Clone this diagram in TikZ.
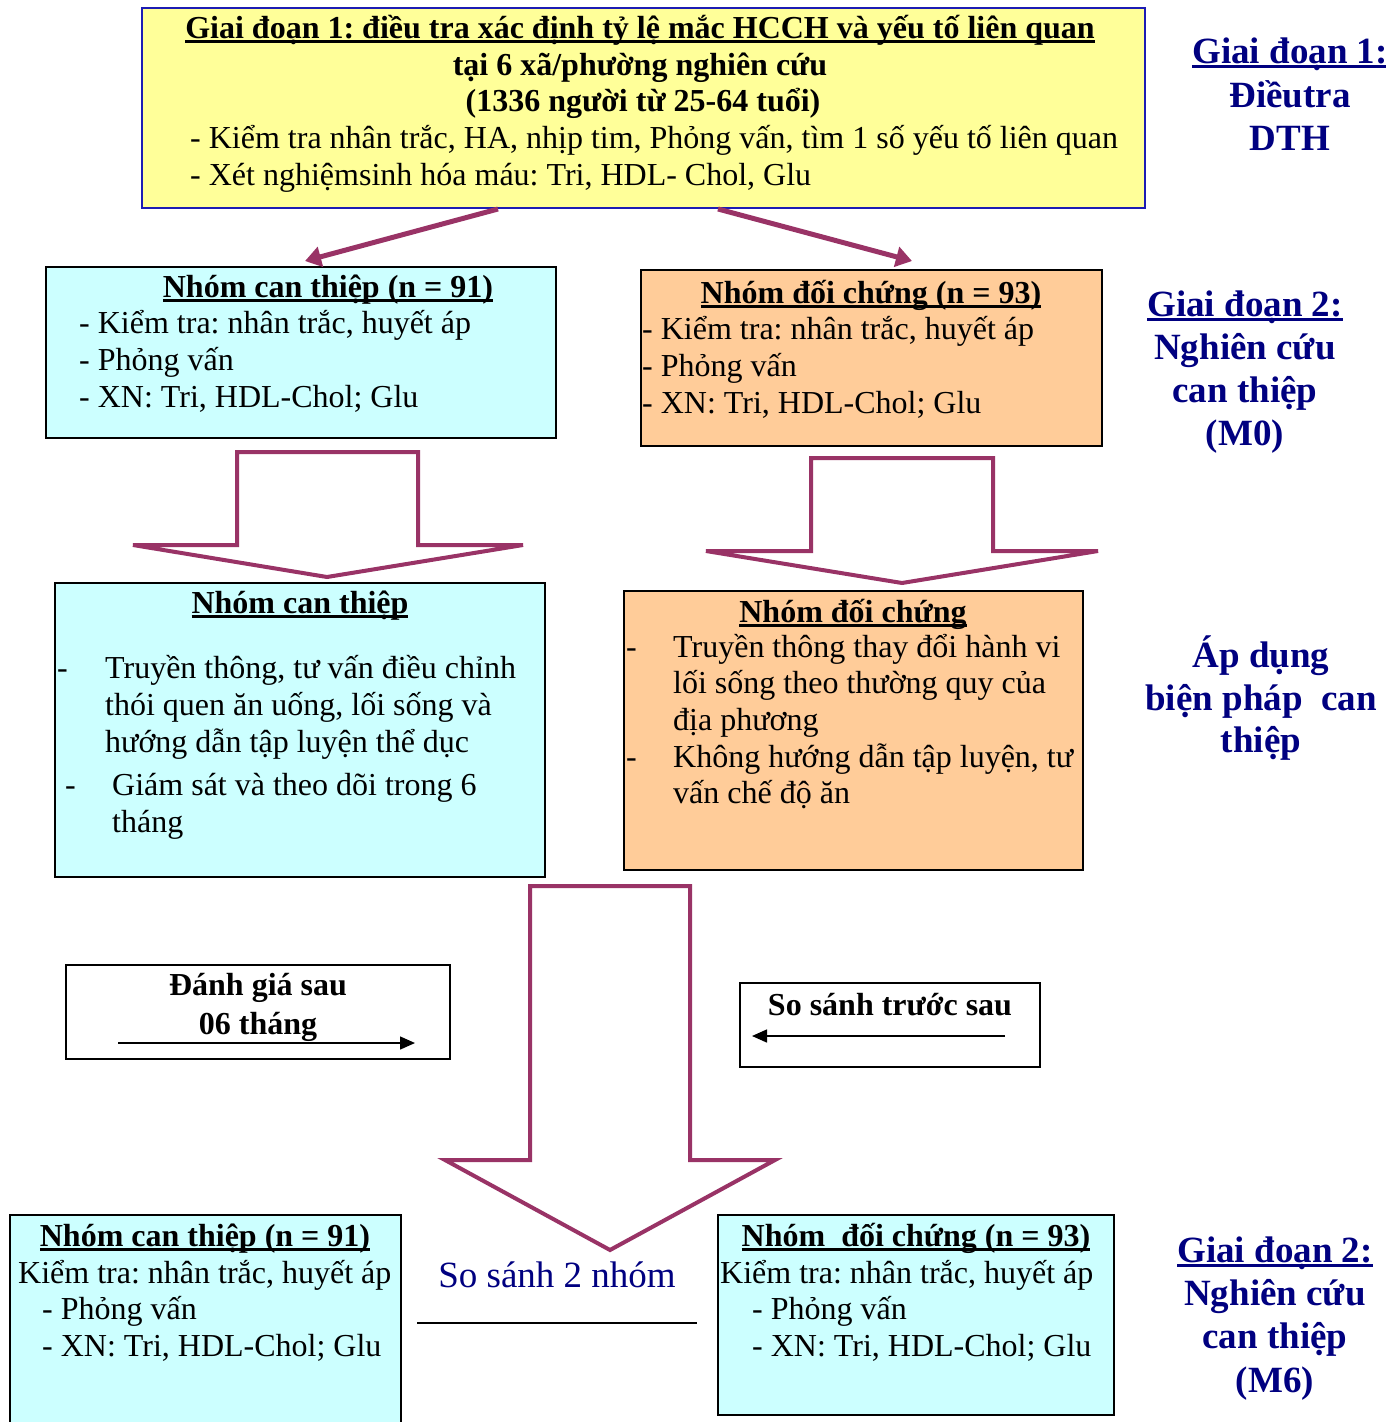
\documentclass[tikz,border=0pt]{standalone}
\usepackage{fontspec}
\setmainfont{Liberation Serif}
\usetikzlibrary{arrows.meta,calc}
\frenchspacing

\definecolor{boxyellow}{HTML}{FFFF99}
\definecolor{boxcyan}{HTML}{CCFFFF}
\definecolor{boxorange}{HTML}{FFCC99}
\definecolor{arrowpurple}{HTML}{993366}
\definecolor{labelnavy}{HTML}{000080}
\definecolor{borderblue}{HTML}{1C1CB4}

\newcommand{\bodyfont}{\fontsize{32}{37}\selectfont}
\newcommand{\sidefont}{\fontsize{37}{43}\selectfont\bfseries}
\newsavebox{\ulinebox}
\newcommand{\thickul}[1]{\sbox{\ulinebox}{#1}\rlap{\rule[-5pt]{\wd\ulinebox}{2.6pt}}\usebox{\ulinebox}}

\tikzset{
  box/.style={draw, line width=2pt, inner sep=0pt},
  bodytext/.style={font=\bodyfont, inner sep=0pt, anchor=base west},
  titletext/.style={font=\bodyfont\bfseries, inner sep=0pt, anchor=base},
  sidetext/.style={font=\sidefont, text=labelnavy, inner sep=0pt, anchor=base},
  linkarrow/.style={draw=arrowpurple, line width=5pt, -{Triangle[length=16pt,width=20pt]}},
  blockarrow/.style={draw=arrowpurple, line width=4pt, fill=white, line join=miter},
  thinarrow/.style={line width=1.5pt, -{Triangle[length=15pt,width=13pt]}}
}

\begin{document}
\begin{tikzpicture}[x=1pt, y=-1pt]
    \useasboundingbox (0,0) rectangle (1386,1422);

    % giai doan 1
    \node[box, draw=borderblue, fill=boxyellow, minimum width=1003pt, minimum height=200pt] (giai1) at (643.5,108) {};
    \node[titletext] (g1a) at (640,38) {\thickul{Giai đoạn 1: điều tra xác định tỷ lệ mắc HCCH và yếu tố liên quan}};
    \node[titletext] (g1b) at (640,75) {tại 6 xã/phường nghiên cứu};
    \node[titletext] (g1c) at (643,111) {(1336 người từ 25-64 tuổi)};
    \node[bodytext] (g1d) at (190,148) {- Kiểm tra nhân trắc, HA, nhịp tim, Phỏng vấn, tìm 1 số yếu tố liên quan};
    \node[bodytext] (g1e) at (190,185) {- Xét nghiệmsinh hóa máu: Tri, HDL- Chol, Glu};

    % M0
    \node[box, fill=boxcyan, minimum width=510pt, minimum height=171pt] (ct0) at (301,352.5) {};
    \node[titletext] (ct0a) at (328,297) {\thickul{Nhóm can thiệp (n = 91)}};
    \node[bodytext] (ct0b) at (79,333) {- Kiểm tra: nhân trắc, huyết áp};
    \node[bodytext] (ct0c) at (79,370) {- Phỏng vấn};
    \node[bodytext] (ct0d) at (79,407) {- XN: Tri, HDL-Chol; Glu};

    \node[box, fill=boxorange, minimum width=461pt, minimum height=176pt] (dc0) at (871.5,358) {};
    \node[titletext] (dc0a) at (871,303) {\thickul{Nhóm đối chứng (n = 93)}};
    \node[bodytext] (dc0b) at (642,339) {- Kiểm tra: nhân trắc, huyết áp};
    \node[bodytext] (dc0c) at (642,376) {- Phỏng vấn};
    \node[bodytext] (dc0d) at (642,413) {- XN: Tri, HDL-Chol; Glu};

    \draw[linkarrow] ([xshift=-145.5pt]giai1.south) -- ([xshift=4pt,yshift=5pt]ct0.north);
    \draw[linkarrow] ([xshift=74.5pt]giai1.south) -- ([xshift=40.5pt,yshift=8pt]dc0.north);

    % block arrows
    \draw[blockarrow] (237,452) -- (418,452) -- (418,545) -- (523,545) -- (327,577)
        -- (133,545) -- (237,545) -- cycle;
    \draw[blockarrow] (811,458) -- (993,458) -- (993,551) -- (1098,551) -- (902,583)
        -- (706,551) -- (811,551) -- cycle;

    % can thiep
    \node[box, fill=boxcyan, minimum width=490pt, minimum height=294pt] (ct1) at (300,730) {};
    \node[titletext] (ct1a) at (300,613) {\thickul{Nhóm can thiệp}};
    \node[bodytext] (ct1b) at (57,678) {-};
    \node[bodytext] (ct1c) at (105,678) {Truyền thông, tư vấn điều chỉnh};
    \node[bodytext] (ct1d) at (105,715) {thói quen ăn uống, lối sống và};
    \node[bodytext] (ct1e) at (105,752) {hướng dẫn tập luyện thể dục};
    \node[bodytext] (ct1f) at (65,795) {-};
    \node[bodytext] (ct1g) at (112,795) {Giám sát và theo dõi trong 6};
    \node[bodytext] (ct1h) at (112,832) {tháng};

    \node[box, fill=boxorange, minimum width=459pt, minimum height=279pt] (dc1) at (853.5,730.5) {};
    \node[titletext] (dc1a) at (853,622) {\thickul{Nhóm đối chứng}};
    \node[bodytext] (dc1b) at (626,657) {-};
    \node[bodytext] (dc1c) at (673,657) {Truyền thông thay đổi hành vi};
    \node[bodytext] (dc1d) at (673,693) {lối sống theo thường quy của};
    \node[bodytext] (dc1e) at (673,730) {địa phương};
    \node[bodytext] (dc1f) at (626,767) {-};
    \node[bodytext] (dc1g) at (673,767) {Không hướng dẫn tập luyện, tư};
    \node[bodytext] (dc1h) at (673,803) {vấn chế độ ăn};

    % danh gia sau 6 thang
    \draw[blockarrow] (530,886) -- (690,886) -- (690,1160) -- (775,1160) -- (610,1250)
        -- (445,1160) -- (530,1160) -- cycle;

    \node[box, minimum width=384pt, minimum height=94pt] (danhgia) at (258,1012) {};
    \node[titletext] (dga) at (258,995) {Đánh giá sau};
    \node[titletext] (dgb) at (258,1034) {06 tháng};
    \draw[thinarrow] ($(danhgia.center)+(-140,31)$) -- ($(danhgia.center)+(157,31)$);

    \node[box, minimum width=300pt, minimum height=84pt] (sosanhtt) at (890,1025) {};
    \node[titletext] (ssa) at (890,1015) {So sánh trước sau};
    \draw[thinarrow] ($(sosanhtt.center)+(115,11)$) -- ($(sosanhtt.center)+(-138,11)$);

    % M6
    \node[box, fill=boxcyan, minimum width=391pt, minimum height=215pt] (ct6) at (205.5,1322.5) {};
    \node[titletext] (ct6a) at (205,1246) {\thickul{Nhóm can thiệp (n = 91)}};
    \node[bodytext] (ct6b) at (18,1283) {Kiểm tra: nhân trắc, huyết áp};
    \node[bodytext] (ct6c) at (42,1319) {- Phỏng vấn};
    \node[bodytext] (ct6d) at (42,1356) {- XN: Tri, HDL-Chol; Glu};

    \node[box, fill=boxcyan, minimum width=396pt, minimum height=200pt] (dc6) at (916,1315) {};
    \node[titletext] (dc6a) at (916,1246) {\thickul{Nhóm\ \ đối chứng (n = 93)}};
    \node[bodytext] (dc6b) at (720,1283) {Kiểm tra: nhân trắc, huyết áp};
    \node[bodytext] (dc6c) at (752,1319) {- Phỏng vấn};
    \node[bodytext] (dc6d) at (752,1356) {- XN: Tri, HDL-Chol; Glu};

    \node[font=\fontsize{37}{43}\selectfont, text=labelnavy, inner sep=0pt, anchor=base] (sosanh) at (557,1287) {So sánh 2 nhóm};
    \draw[line width=2pt] ($(sosanh.base)+(-140,36)$) -- ($(sosanh.base)+(140,36)$);

    % nhan ben phai
    \node[sidetext] (s1a) at (1290,63) {\thickul{Giai đoạn 1:}};
    \node[sidetext] (s1b) at (1290,107) {Điềutra};
    \node[sidetext] (s1c) at (1290,150) {DTH};

    \node[sidetext] (s2a) at (1245,316) {\thickul{Giai đoạn 2:}};
    \node[sidetext] (s2b) at (1245,359) {Nghiên cứu};
    \node[sidetext] (s2c) at (1245,402) {can thiệp};
    \node[sidetext] (s2d) at (1245,445) {(M0)};

    \node[sidetext] (s3a) at (1261,667) {Áp dụng};
    \node[sidetext] (s3b) at (1261,710) {biện pháp\ \ can};
    \node[sidetext] (s3c) at (1261,752) {thiệp};

    \node[sidetext] (s4a) at (1275,1262) {\thickul{Giai đoạn 2:}};
    \node[sidetext] (s4b) at (1275,1305) {Nghiên cứu};
    \node[sidetext] (s4c) at (1275,1348) {can thiệp};
    \node[sidetext] (s4d) at (1275,1392) {(M6)};
\end{tikzpicture}
\end{document}
